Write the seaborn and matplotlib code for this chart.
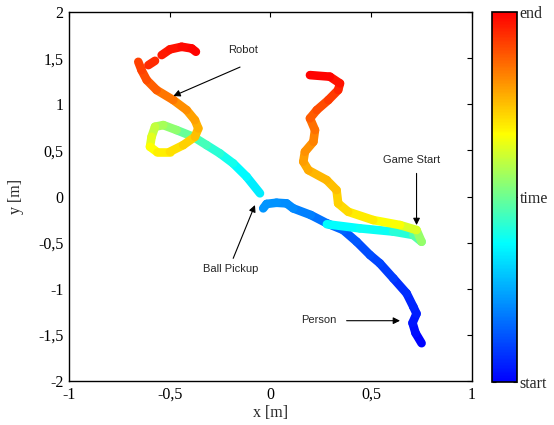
import numpy as np
import pandas as pd
import seaborn as sns
import matplotlib
matplotlib.use('Agg')
import matplotlib.pyplot as plt
from matplotlib.colors import LinearSegmentedColormap, Normalize
from matplotlib.cm import ScalarMappable
from matplotlib.ticker import FuncFormatter

# person: from the start (bottom right) up to the ball pickup
person_x = [0.75, 0.72, 0.705, 0.725, 0.709, 0.676, 0.61, 0.543, 0.494, 0.428, 0.361, 0.28, 0.2, 0.113, 0.08, 0.03, -0.019, -0.036]
person_y = [-1.59, -1.48, -1.37, -1.27, -1.195, -1.05, -0.887, -0.724, -0.634, -0.49, -0.363, -0.29, -0.2, -0.128, -0.074, -0.067, -0.08, -0.128]
person_t = [0.0, 0.01, 0.03, 0.04, 0.05, 0.06, 0.08, 0.1, 0.11, 0.12, 0.14, 0.16, 0.18, 0.2, 0.21, 0.21, 0.22, 0.22]

# right track: game start and then up
right_x = [0.28, 0.444, 0.61, 0.709, 0.75, 0.725, 0.643, 0.51, 0.386, 0.336, 0.328, 0.279, 0.188, 0.163, 0.171, 0.213, 0.221, 0.196, 0.23, 0.287, 0.336, 0.345, 0.295, 0.196]
right_y = [-0.3, -0.345, -0.38, -0.417, -0.49, -0.363, -0.309, -0.255, -0.165, -0.074, 0.07, 0.179, 0.287, 0.378, 0.486, 0.594, 0.721, 0.848, 0.938, 1.046, 1.155, 1.227, 1.30, 1.317]
right_t = [0.37, 0.38, 0.4, 0.44, 0.5, 0.6, 0.65, 0.68, 0.71, 0.72, 0.74, 0.76, 0.77, 0.79, 0.8, 0.82, 0.84, 0.87, 0.89, 0.91, 0.94, 0.96, 0.99, 1.0]

# left track (robot), three pieces because of gaps near the top
left_x = [-0.052, -0.118, -0.185, -0.251, -0.317, -0.383, -0.466, -0.532, -0.573, -0.59, -0.598, -0.565, -0.499, -0.433, -0.375, -0.358, -0.375, -0.416, -0.482, -0.565, -0.614, -0.64, -0.656]
left_y = [0.035, 0.215, 0.36, 0.468, 0.558, 0.648, 0.721, 0.775, 0.757, 0.648, 0.54, 0.486, 0.486, 0.558, 0.648, 0.739, 0.829, 0.938, 1.046, 1.155, 1.263, 1.371, 1.461]
left_t = [0.34, 0.36, 0.38, 0.41, 0.44, 0.47, 0.52, 0.56, 0.58, 0.62, 0.66, 0.68, 0.7, 0.72, 0.74, 0.76, 0.78, 0.8, 0.83, 0.86, 0.89, 0.91, 0.92]
left2_x = [-0.606, -0.573]
left2_y = [1.425, 1.472]
left2_t = [0.94, 0.95]
left3_x = [-0.54, -0.499, -0.441, -0.391, -0.37]
left3_y = [1.534, 1.596, 1.624, 1.606, 1.57]
left3_t = [0.96, 0.97, 0.98, 0.99, 1.0]

tracks = [(person_x, person_y, person_t), (right_x, right_y, right_t),
          (left_x, left_y, left_t), (left2_x, left2_y, left2_t),
          (left3_x, left3_y, left3_t)]

# each pair of points becomes one short segment with its own colour
rows = []
seg = 0
for xs, ys, ts in tracks:
    for i in range(len(xs) - 1):
        tm = (ts[i] + ts[i + 1]) / 2
        rows.append((xs[i], ys[i], tm, seg))
        rows.append((xs[i + 1], ys[i + 1], tm, seg))
        seg += 1
df = pd.DataFrame(rows, columns=['x', 'y', 't', 'seg'])

cmap = LinearSegmentedColormap.from_list(
    'timejet', [(0, '#0000ff'), (0.375, '#00ffff'), (0.67, '#ffff00'), (1, '#ff0000')])

sns.set_style('white')
plt.rcParams['font.family'] = ['Liberation Serif', 'DejaVu Serif']
plt.rcParams['xtick.direction'] = 'in'
plt.rcParams['ytick.direction'] = 'in'

fig = plt.figure(figsize=(5.54, 4.25), dpi=100)
ax = fig.add_axes([0.1245, 0.1035, 0.7274, 0.868])
cax = fig.add_axes([0.888, 0.101, 0.0451, 0.8706])

sns.lineplot(data=df, x='x', y='y', hue='t', units='seg', estimator=None, sort=False,
             palette=cmap, hue_norm=(0, 1), legend=False, ax=ax,
             linewidth=6.2, solid_capstyle='round', solid_joinstyle='round')

ax.set_xlim(-1, 1)
ax.set_ylim(-2, 2)
ax.set_xticks([-1, -0.5, 0, 0.5, 1])
ax.set_yticks([-2, -1.5, -1, -0.5, 0, 0.5, 1, 1.5, 2])
comma = FuncFormatter(lambda v, p: ('%g' % v).replace('.', ','))
ax.xaxis.set_major_formatter(comma)
ax.yaxis.set_major_formatter(comma)
ax.tick_params(top=True, right=True, length=3.5, width=0.8, labelsize=11.5, pad=4, colors='black')
for s in ax.spines.values():
    s.set_color('black')
    s.set_linewidth(1.0)
ax.set_xlabel('x [m]', fontsize=11.5, labelpad=2)
ax.set_ylabel('y [m]', fontsize=11.5, labelpad=10)

# annotations
sans = ['Liberation Sans', 'DejaVu Sans']
arrow = dict(arrowstyle='-|>', color='black', lw=0.8, mutation_scale=10, shrinkA=0, shrinkB=0)
ax.text(-0.135, 1.59, 'Robot', fontsize=8, family=sans, ha='center', va='center')
ax.annotate('', xy=(-0.482, 1.09), xytext=(-0.151, 1.404), arrowprops=arrow)
ax.text(0.7, 0.396, 'Game Start', fontsize=8, family=sans, ha='center', va='center')
ax.annotate('', xy=(0.725, -0.309), xytext=(0.725, 0.251), arrowprops=arrow)
ax.text(-0.195, -0.79, 'Ball Pickup', fontsize=8, family=sans, ha='center', va='center')
ax.annotate('', xy=(-0.077, -0.092), xytext=(-0.185, -0.67), arrowprops=arrow)
ax.text(0.24, -1.339, 'Person', fontsize=8, family=sans, ha='center', va='center')
ax.annotate('', xy=(0.643, -1.346), xytext=(0.378, -1.346), arrowprops=arrow)

cb = fig.colorbar(ScalarMappable(norm=Normalize(0, 1), cmap=cmap), cax=cax, ticks=[0, 0.5, 1])
cb.ax.set_yticklabels(['start', 'time', 'end'])
cb.ax.tick_params(direction='in', left=True, right=True, length=3, width=0.8, labelsize=11.5, pad=2)
cb.outline.set_edgecolor('black')
cb.outline.set_linewidth(1.2)

fig.savefig('out.png', dpi=100, facecolor='white')
